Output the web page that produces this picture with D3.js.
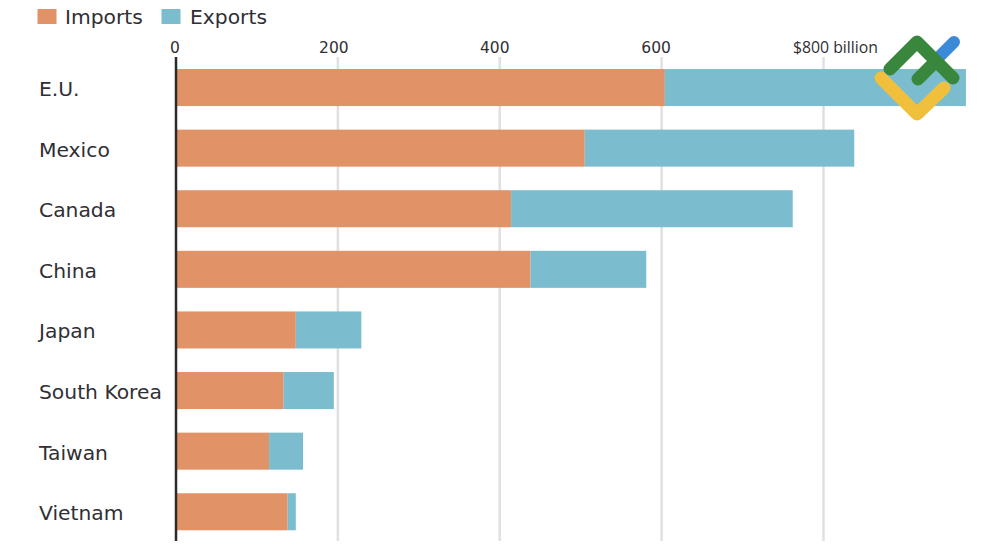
<!DOCTYPE html>
<html><head><meta charset="utf-8">
<script src="https://cdn.jsdelivr.net/npm/d3@7/dist/d3.min.js"></script>
<style>html,body{margin:0;padding:0;background:#fff}svg{display:block}
text{font-family:"DejaVu Sans",sans-serif;fill:#2f2f33}</style></head>
<body><svg id="c" width="1000" height="545"></svg>
<script>
const categories=["E.U.","Mexico","Canada","China","Japan","South Korea","Taiwan","Vietnam"];
const imports=[604,505,414,438,148,133,115,138];
const exports_=[372,333,348,143,81,62,42,10];
const seriesNames=["Imports","Exports"];
const seriesColors=["#e29267","#7bbdcf"];
const tickValues=[0,200,400,600,800];
const tickLabels=["0","200","400","600","$800 billion"];
const tickNudge=[-1,-4,-5,-5.5,12];

const svg=d3.select("#c");
const x=d3.scaleLinear().domain([0,800]).range([176,823.5]);
const y=d3.scaleBand().domain(categories).range([56.9,542.4]).paddingInner(0.389).paddingOuter(0.2);

// gridlines
svg.append("g").selectAll("line").data(tickValues.slice(1)).join("line")
 .attr("x1",d=>x(d)).attr("x2",d=>x(d)).attr("y1",57).attr("y2",541)
 .attr("stroke","#e0e0e0").attr("stroke-width",2.5);

// tick labels
svg.append("g").selectAll("text").data(tickValues).join("text")
 .attr("x",(d,i)=>x(d)+tickNudge[i]).attr("y",52.5).attr("text-anchor","middle")
 .style("font-family",(d,i)=>i==4?'"Open Sans",sans-serif':null)
 .attr("font-size",(d,i)=>i==4?15.8:15.5).text((d,i)=>tickLabels[i]);

// bars
const rows=svg.append("g").selectAll("g").data(categories).join("g");
rows.append("rect").attr("x",x(0)).attr("y",d=>y(d)).attr("height",y.bandwidth())
 .attr("width",(d,i)=>x(imports[i])-x(0)).attr("fill",seriesColors[0]);
rows.append("rect").attr("x",(d,i)=>x(imports[i])).attr("y",d=>y(d)).attr("height",y.bandwidth())
 .attr("width",(d,i)=>x(imports[i]+exports_[i])-x(imports[i])).attr("fill",seriesColors[1]);
rows.append("text").attr("x",39).attr("y",d=>y(d)+y.bandwidth()/2+8.5)
 .attr("font-size",20.3).text(d=>d);

// zero axis
svg.append("line").attr("x1",x(0)).attr("x2",x(0)).attr("y1",57).attr("y2",541)
 .attr("stroke","#2b2b2b").attr("stroke-width",2.5);

// legend
const lg=svg.append("g");
const lx=[37.5,161.5],tx=[65,190];
seriesNames.forEach((n,i)=>{
 lg.append("rect").attr("x",lx[i]).attr("y",9).attr("width",19).attr("height",15).attr("fill",seriesColors[i]);
 lg.append("text").attr("x",tx[i]).attr("y",23.5).attr("font-size",20.3).text(n);
});

// logo
const logo=svg.append("g").attr("fill","none").attr("stroke-linecap","round").attr("stroke-linejoin","round").attr("stroke-width",13);
logo.append("path").attr("d","M934 62L954 42").attr("stroke","#3b8ad8").attr("stroke-width",12);
logo.append("path").attr("d","M890 69L917 42L953 78M918 79L936 61").attr("stroke","#38873c");
logo.append("path").attr("d","M881 78L917 114L944 88").attr("stroke","#f0c03c");
</script></body></html>
